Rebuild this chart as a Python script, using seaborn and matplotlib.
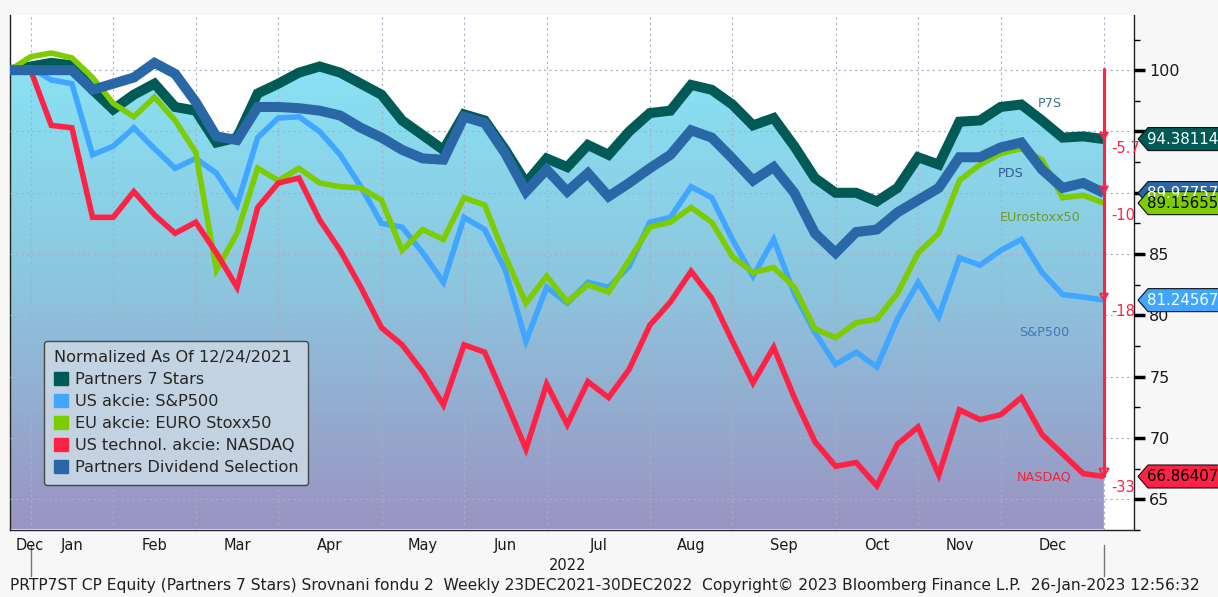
import numpy as np
import pandas as pd
import matplotlib
matplotlib.use("Agg")
import matplotlib.pyplot as plt
import matplotlib.transforms as mtransforms
from matplotlib.patches import Patch, Polygon
from matplotlib.colors import LinearSegmentedColormap
from matplotlib.path import Path
import seaborn as sns

# Weekly data, normalized to 100 on 24 Dec 2021
weeks = pd.date_range("2021-12-24", "2022-12-30", freq="W-FRI")

p7s = [100.0, 100.3, 100.6, 100.4, 98.4, 96.8, 98.0, 98.9, 97.0, 96.7,
       94.1, 94.5, 98.1, 98.9, 99.8, 100.3, 99.8, 98.9, 98.0, 95.9,
       94.7, 93.5, 96.4, 95.9, 93.5, 90.8, 92.8, 92.1, 93.9, 93.1,
       95.0, 96.5, 96.7, 98.8, 98.4, 97.2, 95.5, 96.1, 93.8, 91.2,
       90.0, 90.0, 89.3, 90.4, 92.9, 92.3, 95.8, 95.9, 97.0, 97.2,
       95.9, 94.5, 94.6, 94.38114]
sp500 = [100.0, 100.2, 99.2, 98.9, 93.1, 93.8, 95.3, 93.6, 92.0, 92.8,
         91.6, 89.0, 94.5, 96.1, 96.2, 95.0, 93.1, 90.5, 87.5, 87.2,
         85.1, 82.7, 88.0, 87.0, 83.7, 77.9, 82.3, 81.0, 82.7, 82.3,
         84.0, 87.6, 88.0, 90.5, 89.6, 86.2, 83.2, 86.2, 81.8, 78.6,
         76.0, 77.0, 75.8, 79.7, 82.7, 79.9, 84.7, 84.1, 85.3, 86.2,
         83.5, 81.7, 81.5, 81.24567]
stoxx50 = [100.0, 101.1, 101.4, 101.0, 99.4, 97.3, 96.2, 97.8, 95.9, 93.3,
           83.7, 86.7, 92.0, 91.0, 92.0, 90.8, 90.5, 90.4, 89.4, 85.3,
           87.0, 86.2, 89.6, 89.0, 84.8, 81.0, 83.2, 81.1, 82.5, 81.9,
           84.5, 87.2, 87.6, 88.8, 87.6, 84.8, 83.5, 83.9, 82.3, 78.9,
           78.2, 79.4, 79.7, 81.8, 85.1, 86.7, 91.0, 92.3, 93.2, 93.6,
           92.7, 89.6, 89.8, 89.15655]
nasdaq = [100.0, 100.0, 95.5, 95.3, 88.0, 88.0, 90.1, 88.2, 86.7, 87.6,
          85.1, 82.3, 88.8, 90.8, 91.2, 87.8, 85.3, 82.3, 79.0, 77.6,
          75.4, 72.7, 77.6, 77.0, 73.1, 69.1, 74.4, 71.1, 74.6, 73.3,
          75.6, 79.2, 81.1, 83.6, 81.4, 77.9, 74.5, 77.4, 73.3, 69.7,
          67.7, 68.0, 66.1, 69.5, 70.9, 67.0, 72.3, 71.5, 71.9, 73.3,
          70.3, 68.7, 67.1, 66.86407]
pds = [100.0, 100.0, 100.0, 100.0, 98.4, 98.9, 99.4, 100.6, 99.7, 97.4,
       94.6, 94.3, 97.0, 97.0, 96.9, 96.7, 96.3, 95.3, 94.5, 93.5,
       92.8, 92.7, 96.2, 95.7, 93.2, 90.1, 91.9, 90.1, 91.6, 89.7,
       90.8, 92.0, 93.1, 95.1, 94.5, 92.8, 91.0, 92.1, 90.0, 86.7,
       85.1, 86.8, 87.0, 88.4, 89.4, 90.4, 92.9, 92.9, 93.7, 94.1,
       91.9, 90.4, 90.8, 89.97757]

legend_names = ["Partners 7 Stars", "US akcie: S&P500", "EU akcie: EURO Stoxx50",
                "US technol. akcie: NASDAQ", "Partners Dividend Selection"]
short_names = ["P7S", "S&P500", "EUrostoxx50", "NASDAQ", "PDS"]
colors = ["#005a55", "#40a6ff", "#7ccc00", "#ff2244", "#2a67a6"]
widths = [7.2, 4.0, 4.0, 4.0, 7.2]
label_colors = ["#3e6f8c", "#3d78b6", "#6b9a26", "#e8283c", "#2f5f8f"]
change_labels = ["-5.7", "-10", "-18", "-33"]
footer = ("PRTP7ST CP Equity (Partners 7 Stars) Srovnani fondu 2  Weekly 23DEC2021-30DEC2022  "
          "Copyright\u00a9 2023 Bloomberg Finance L.P.  26-Jan-2023 12:56:32")

series = [p7s, sp500, stoxx50, nasdaq, pds]
n = len(weeks)
idx = np.arange(n)
df = pd.DataFrame({"idx": np.tile(idx, len(series)),
                   "value": np.concatenate(series),
                   "name": np.repeat(short_names, n)})

sns.set_theme(style="white")
plt.rcParams['font.family'] = ['DejaVu Sans']

W, H = 1218, 597
fig = plt.figure(figsize=(W / 100, H / 100), dpi=100, facecolor="#f7f7f7")
ax = fig.add_axes([10 / W, 1 - 530 / H, 1124 / W, 515 / H])
ax.set_facecolor("white")

ymin, ymax = 62.55, 104.5
xmax = 54.46

# gradient area under the Partners 7 Stars line
cmap = LinearSegmentedColormap.from_list("bbg", ["#88e8f8", "#8cc8e0", "#9a94c2"])
grad = np.linspace(0, 1, 256).reshape(-1, 1)
im = ax.imshow(grad, cmap=cmap, aspect="auto", extent=[0, n - 1, ymin, ymax],
               origin="upper", zorder=1)
verts = np.column_stack([np.r_[idx, idx[::-1]], np.r_[p7s, np.full(n, ymin)]])
clip = Polygon(verts, closed=True, transform=ax.transData, fc="none", ec="none")
ax.add_patch(clip)
im.set_clip_path(clip)

for name, c, lw in zip(short_names, colors, widths):
    sns.lineplot(data=df[df["name"] == name], x="idx", y="value", color=c,
                 linewidth=lw, ax=ax, zorder=3, solid_joinstyle="miter",
                 solid_capstyle="butt")

ax.set_xlim(0, xmax)
ax.set_ylim(ymin, ymax)
ax.set_xlabel("")
ax.set_ylabel("")

# x axis: ticks at last week of each month, month names in between
month_end = [i for i in range(n - 1) if weeks[i].month != weeks[i + 1].month] + [n - 1]
label_pos = [0.95] + [(a + b) / 2 for a, b in zip(month_end[:-1], month_end[1:])]
month_names = [weeks[i].strftime("%b") for i in month_end]
ax.set_xticks(month_end, labels=[""] * len(month_end))
ax.set_xticks(label_pos, labels=month_names, minor=True)
ax.tick_params(axis="x", which="major", direction="out", length=5, width=1, color="#333333")
ax.tick_params(axis="x", which="minor", length=0, pad=6, labelsize=10.5, labelcolor="#1a1a1a")

# y axis on the right (95 and 90 sit behind the value tags)
yt = np.arange(65, 101, 5)
ax.yaxis.tick_right()
ax.set_yticks(yt, labels=["" if v in (90, 95) else str(v) for v in yt])
ax.set_yticks(np.arange(62.5, 103, 2.5), minor=True)
ax.tick_params(axis="y", which="major", direction="out", length=8, width=2.5,
               color="black", labelsize=11.5, pad=3, labelcolor="#1a1a1a")
ax.tick_params(axis="y", which="minor", direction="out", length=4, width=1, color="black")

ax.grid(True, which="major", linestyle=(0, (2, 3)), color="#a9aec6", linewidth=0.8)
ax.set_axisbelow(False)
ax.spines["top"].set_visible(False)
for side in ["left", "bottom", "right"]:
    ax.spines[side].set_color("#222222")
    ax.spines[side].set_linewidth(1.0)

# year label and year boundary marks
bt = mtransforms.blended_transform_factory(ax.transData, ax.transAxes)
ax.text(np.mean([month_end[0], month_end[-1]]), -0.068, str(weeks[-1].year),
        transform=bt, ha="center", va="center", fontsize=10.5, color="#1a1a1a")
for i in [month_end[0], month_end[-1]]:
    ax.plot([i, i], [-0.03, -0.09], transform=bt, color="#777777", lw=1, clip_on=False)

# series labels near the end
label_spots = [(50.4, 97.3), (50.1, 78.6), (49.9, 88.0), (50.1, 66.8), (48.5, 91.6)]
for s, (lx, ly), lc in zip(short_names, label_spots, label_colors):
    ax.text(lx, ly, s, color=lc, fontsize=9.2, ha="center", va="center", zorder=5)

# red change marker
red = "#ff2244"
ax.plot([n - 1, n - 1], [100.1, nasdaq[-1]], color=red, lw=2.2, zorder=6, clip_on=False)
tri = Path([(-0.6, 1.0), (0.6, 1.0), (0.0, 0.0), (-0.6, 1.0)])
marked = [p7s, pds, sp500, nasdaq]
offsets = [-7, -16, -8, -8]
for k, (s, txt, off) in enumerate(zip(marked, change_labels, offsets)):
    ax.scatter([n - 1], [s[-1]], marker=tri, s=130 if k == 3 else 90,
               facecolors="none", edgecolors=red, linewidths=1.3, zorder=7, clip_on=False)
    ax.annotate(txt, (n - 1, s[-1]), xytext=(5, off), textcoords="offset points",
                color=red, fontsize=10.5, ha="left", va="center", zorder=7)

# end value tags on the right axis
tag_order = [0, 4, 2, 1, 3]
tag_text = ["white", "white", "black", "black", "white"]
for k in tag_order:
    v = series[k][-1]
    _, yd = ax.transData.transform((0, v))
    x0 = 1138
    hh = 11.5
    pts = [(x0, yd), (x0 + 10, yd + hh), (W + 5, yd + hh), (W + 5, yd - hh), (x0 + 10, yd - hh)]
    fig.add_artist(Polygon(pts, closed=True, transform=mtransforms.IdentityTransform(),
                           fc=colors[k], ec="#111111", lw=0.8, zorder=8))
    fig.text(x0 + 9, yd, f"{v:.5f}", transform=mtransforms.IdentityTransform(),
             color=tag_text[k], fontsize=10.8, ha="left", va="center", zorder=9)

# legend
handles = [Patch(facecolor=c, edgecolor=c) for c in colors]
leg = ax.legend(handles, legend_names, title="Normalized As Of 12/24/2021",
                loc="lower left", bbox_to_anchor=(0.0302, 0.0874), borderaxespad=0,
                fontsize=11.6, title_fontsize=11.6, handlelength=0.9, handleheight=0.9,
                handletextpad=0.4, labelspacing=0.42, borderpad=0.6,
                frameon=True, fancybox=True, alignment="left")
leg.get_frame().set_facecolor("#c9d7e4")
leg.get_frame().set_edgecolor("#3a3a3a")
leg.get_frame().set_alpha(0.9)
leg.set_zorder(10)

fig.text(10 / W, 1 - 585 / H, footer, fontsize=11.2, color="#202020", ha="left", va="center")

fig.savefig("out.png", dpi=100, facecolor=fig.get_facecolor())
